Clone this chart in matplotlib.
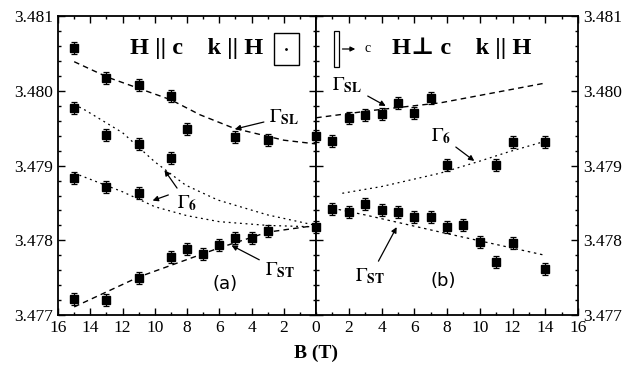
import matplotlib
matplotlib.use("Agg")
import matplotlib.pyplot as plt
from matplotlib.patches import Rectangle
from matplotlib.ticker import MultipleLocator, FormatStrFormatter

plt.rcParams['font.family'] = ['Liberation Serif', 'DejaVu Serif']
plt.rcParams['mathtext.fontset'] = 'stix'

# ---- left panel (H || c) ----
a_sl_B = [15, 13, 11, 9, 8, 5, 3, 0]
a_sl_E = [3.48057, 3.48017, 3.48008, 3.47993, 3.47949, 3.47938, 3.47934, 3.47940]
a_g6u_B = [15, 13, 11, 9]
a_g6u_E = [3.47977, 3.47941, 3.47929, 3.47910]
a_g6l_B = [15, 13, 11]
a_g6l_E = [3.47883, 3.47871, 3.47864]
a_st_B = [15, 13, 11, 9, 8, 7, 6, 5, 4, 3, 0]
a_st_E = [3.47722, 3.47720, 3.47750, 3.47778, 3.47789, 3.47782, 3.47794,
          3.47803, 3.47803, 3.47813, 3.47818]

# fit curves
a_sl_fitB = [15, 12.9, 9, 7.2, 5.1, 2, 0]
a_sl_fitE = [3.48039, 3.48018, 3.47988, 3.47968, 3.47950, 3.47934, 3.47929]
a_g6u_fitB = [15, 14.3, 12, 10, 8.1, 6.1, 3, 0]
a_g6u_fitE = [3.47982, 3.47974, 3.47944, 3.47905, 3.47874, 3.47854, 3.47834, 3.47820]
a_g6l_fitB = [15, 12, 10, 8, 6, 3, 0]
a_g6l_fitE = [3.47890, 3.47865, 3.47845, 3.47833, 3.47825, 3.47820, 3.47818]
a_st_fitB = [15, 11, 6, 3, 0]
a_st_fitE = [3.47711, 3.47751, 3.47790, 3.47811, 3.47820]

# ---- right panel (H perp c) ----
b_sl_B = [0, 1, 2, 3, 4, 5, 6, 7]
b_sl_E = [3.47940, 3.47933, 3.47964, 3.47968, 3.47969, 3.47984, 3.47970, 3.47990]
b_g6_B = [8, 11, 12, 14]
b_g6_E = [3.47901, 3.47901, 3.47932, 3.47932]
b_st_B = [0, 1, 2, 3, 4, 5, 6, 7, 8, 9, 10, 11, 12, 14]
b_st_E = [3.47818, 3.47842, 3.47838, 3.47849, 3.47841, 3.47838, 3.47831,
          3.47831, 3.47818, 3.47821, 3.47798, 3.47771, 3.47796, 3.47762]

b_sl_fitB = [0, 3.5, 7.6, 13.9]
b_sl_fitE = [3.47964, 3.47974, 3.47984, 3.48010]
b_g6_fitB = [1.6, 4, 7.6, 10, 11.7, 13.9]
b_g6_fitE = [3.47863, 3.47872, 3.47890, 3.47906, 3.47918, 3.47932]
b_st_fitB = [1, 3, 7.6, 14]
b_st_fitE = [3.47843, 3.47834, 3.47811, 3.47780]

err = 0.00008

fig = plt.figure(figsize=(6.31, 3.66), dpi=100)
axL = fig.add_axes([0.092, 0.139, 0.409, 0.817])
axR = fig.add_axes([0.501, 0.139, 0.415, 0.817])

pt = dict(fmt='s', color='black', ms=5.5, capsize=2.5, elinewidth=0.9, capthick=0.9)

for B, E in [(a_sl_B, a_sl_E), (a_g6u_B, a_g6u_E), (a_g6l_B, a_g6l_E), (a_st_B, a_st_E)]:
    axL.errorbar(B, E, yerr=err, **pt)
axL.plot(a_sl_fitB, a_sl_fitE, color='black', lw=1.0, ls=(0, (4, 3)))
axL.plot(a_st_fitB, a_st_fitE, color='black', lw=1.0, ls=(0, (4, 3)))
axL.plot(a_g6u_fitB, a_g6u_fitE, color='black', lw=0.9, ls=(0, (1.5, 3)))
axL.plot(a_g6l_fitB, a_g6l_fitE, color='black', lw=0.9, ls=(0, (1.5, 3)))

for B, E in [(b_sl_B, b_sl_E), (b_g6_B, b_g6_E), (b_st_B, b_st_E)]:
    axR.errorbar(B, E, yerr=err, **pt)
axR.plot(b_sl_fitB, b_sl_fitE, color='black', lw=1.0, ls=(0, (4, 3)))
axR.plot(b_g6_fitB, b_g6_fitE, color='black', lw=0.9, ls=(0, (1.5, 3)))
axR.plot(b_st_fitB, b_st_fitE, color='black', lw=0.9, ls=(0, (2, 3)))

for ax in (axL, axR):
    ax.set_ylim(3.477, 3.481)
    ax.yaxis.set_major_locator(MultipleLocator(0.001))
    ax.yaxis.set_minor_locator(MultipleLocator(0.0002))
    ax.xaxis.set_major_locator(MultipleLocator(2))
    ax.xaxis.set_minor_locator(MultipleLocator(1))
    ax.yaxis.set_major_formatter(FormatStrFormatter('%.3f'))
    ax.tick_params(which='both', direction='in', top=True, bottom=True,
                   left=True, right=True, labelsize=12.5, width=1.0)
    ax.tick_params(which='major', length=5)
    ax.tick_params(which='minor', length=2.5)
    for s in ax.spines.values():
        s.set_linewidth(1.3)

axL.set_xlim(16, 0)
axR.set_xlim(0, 16)
axR.tick_params(labelleft=False, labelright=True)
axL.set_xticks([16, 14, 12, 10, 8, 6, 4, 2, 0])
axR.set_xticks([2, 4, 6, 8, 10, 12, 14, 16])

fig.text(0.5, 0.035, 'B (T)', ha='center', va='center', fontsize=14, fontweight='bold')

# header texts
axL.text(0.28, 0.893, 'H || c    k || H', transform=axL.transAxes, fontsize=17.5,
         fontweight='bold', ha='left', va='center')
axL.add_patch(Rectangle((0.835, 0.835), 0.1, 0.11, transform=axL.transAxes,
                        fill=False, lw=1.0, color='black'))
axL.plot([0.885], [0.89], marker='.', ms=2, color='black', transform=axL.transAxes)

axR.add_patch(Rectangle((0.067, 0.83), 0.022, 0.12, transform=axR.transAxes,
                        fill=False, lw=0.9, color='black'))
axR.annotate('', xy=(0.16, 0.89), xytext=(0.09, 0.89), xycoords='axes fraction',
             arrowprops=dict(arrowstyle='-|>', color='black', lw=0.9, mutation_scale=7))
axR.text(0.185, 0.893, 'c', transform=axR.transAxes, fontsize=10, ha='left', va='center')
axR.text(0.29, 0.893, 'H\u22a5 c    k || H', transform=axR.transAxes, fontsize=17.5,
         fontweight='bold', ha='left', va='center')

# labels with arrows
arr = dict(arrowstyle='-|>', color='black', lw=0.9, mutation_scale=8)
axL.annotate(r'$\Gamma_{\mathbf{SL}}$', xy=(5.2, 3.47948), xytext=(2.9, 3.47965),
             fontsize=14, ha='left', va='center', arrowprops=arr)
axL.annotate(r'$\Gamma_{\mathbf{6}}$', xy=(9.5, 3.47897), xytext=(8.6, 3.47850),
             fontsize=14, ha='left', va='center', arrowprops=arr)
axL.annotate('', xy=(10.3, 3.47852), xytext=(9.0, 3.47862), arrowprops=arr)
axL.annotate(r'$\Gamma_{\mathbf{ST}}$', xy=(5.4, 3.47795), xytext=(3.2, 3.47760),
             fontsize=14, ha='left', va='center', arrowprops=arr)
axL.text(5.65, 3.47742, '(a)', fontsize=13, ha='center', va='center',
         family=['DejaVu Sans'])

axR.annotate(r'$\Gamma_{\mathbf{SL}}$', xy=(4.4, 3.47978), xytext=(1.0, 3.48008),
             fontsize=14, ha='left', va='center', arrowprops=arr)
axR.annotate(r'$\Gamma_{\mathbf{6}}$', xy=(9.8, 3.47904), xytext=(7.0, 3.47940),
             fontsize=14, ha='left', va='center', arrowprops=arr)
axR.annotate(r'$\Gamma_{\mathbf{ST}}$', xy=(5.0, 3.47821), xytext=(2.4, 3.47752),
             fontsize=14, ha='left', va='center', arrowprops=arr)
axR.text(7.75, 3.47745, '(b)', fontsize=13, ha='center', va='center',
         family=['DejaVu Sans'])

fig.savefig('out.png', dpi=100)
